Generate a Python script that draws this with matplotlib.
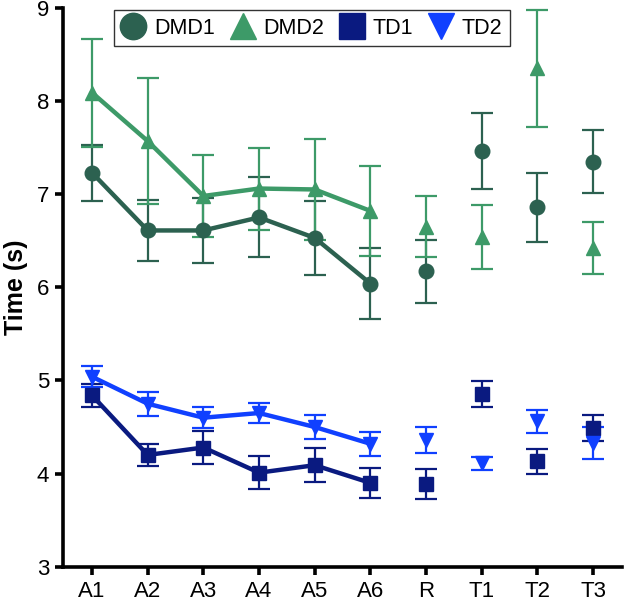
import numpy as np
import matplotlib.pyplot as plt

plt.rcParams['font.family'] = ['Liberation Sans', 'DejaVu Sans']

labels = ['A1', 'A2', 'A3', 'A4', 'A5', 'A6', 'R', 'T1', 'T2', 'T3']

dmd1 = [7.23, 6.61, 6.61, 6.75, 6.53, 6.04, 6.17, 7.46, 6.86, 7.35]
dmd1_err = [0.30, 0.33, 0.35, 0.43, 0.40, 0.38, 0.34, 0.41, 0.37, 0.34]
dmd2 = [8.09, 7.57, 6.98, 7.06, 7.05, 6.82, 6.65, 6.54, 8.35, 6.42]
dmd2_err = [0.58, 0.68, 0.44, 0.44, 0.54, 0.48, 0.33, 0.34, 0.63, 0.28]
td1 = [4.84, 4.20, 4.28, 4.01, 4.09, 3.90, 3.89, 4.85, 4.13, 4.49]
td1_err = [0.12, 0.12, 0.18, 0.18, 0.18, 0.16, 0.16, 0.14, 0.13, 0.14]
td2 = [5.04, 4.75, 4.60, 4.65, 4.50, 4.32, 4.36, 4.11, 4.56, 4.33]
td2_err = [0.11, 0.13, 0.11, 0.11, 0.13, 0.13, 0.14, 0.07, 0.12, 0.17]

series = [
    ('DMD1', dmd1, dmd1_err, '#2c6150', 'o'),
    ('DMD2', dmd2, dmd2_err, '#3d9a68', '^'),
    ('TD1', td1, td1_err, '#0a1a80', 's'),
    ('TD2', td2, td2_err, '#1040ff', 'v'),
]

x = np.arange(len(labels))
n_line = 6  # A1..A6 joined by lines

fig = plt.figure(figsize=(6.24, 6.01), dpi=100)
ax = fig.add_axes([0.101, 0.057, 0.896, 0.930])

handles = []
for name, vals, err, col, mk in series:
    vals = np.array(vals)
    err = np.array(err)
    ax.errorbar(x, vals, yerr=err, fmt='none', ecolor=col, elinewidth=1.6,
                capsize=8, capthick=1.6, zorder=2)
    ax.plot(x[:n_line], vals[:n_line], color=col, lw=3.2, zorder=3)
    ax.plot(x, vals, linestyle='none', marker=mk, color=col,
            markersize=10.5, zorder=4)
    handles.append(ax.plot([], [], linestyle='none', marker=mk, color=col,
                           markersize=19, label=name)[0])

ax.set_xlim(-0.52, 9.52)
ax.set_ylim(3, 9)
ax.set_xticks(x)
ax.set_xticklabels(labels)
ax.set_yticks([3, 4, 5, 6, 7, 8, 9])
ax.set_ylabel('Time (s)', fontsize=18, fontweight='bold', labelpad=6)

for side in ['top', 'right']:
    ax.spines[side].set_visible(False)
for side in ['left', 'bottom']:
    ax.spines[side].set_linewidth(2.6)
ax.tick_params(axis='both', width=2.6, length=6, labelsize=16, pad=4)

ax.legend(handles=handles, loc='upper center', ncol=4, frameon=True,
          fancybox=False, edgecolor='black', fontsize=15.5, handlelength=1.1,
          handletextpad=0.4, columnspacing=0.75, borderpad=0.35,
          borderaxespad=0.1, bbox_to_anchor=(0.445, 1.0))

fig.savefig('out.png', dpi=100)
